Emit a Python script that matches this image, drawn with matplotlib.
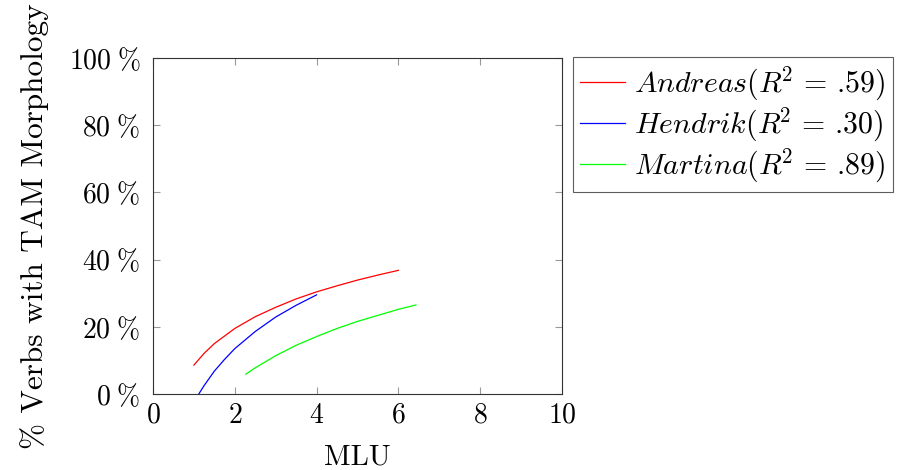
import matplotlib
matplotlib.use('Agg')
import matplotlib.pyplot as plt
from matplotlib.ticker import FuncFormatter

# values (MLU, % verbs with TAM morphology)
andreas_x = [1.0, 1.25, 1.5, 2.0, 2.5, 3.0, 3.5, 4.0, 4.5, 5.0, 5.5, 6.0]
andreas_y = [8.6, 12.1, 15.0, 19.5, 23.0, 25.8, 28.3, 30.4, 32.2, 33.9, 35.4, 36.8]

hendrik_x = [1.12, 1.25, 1.5, 1.75, 2.0, 2.5, 3.0, 3.5, 4.0]
hendrik_y = [0.0, 2.5, 6.8, 10.3, 13.5, 18.6, 22.9, 26.4, 29.5]

martina_x = [2.27, 2.5, 3.0, 3.5, 4.0, 4.5, 5.0, 5.5, 6.0, 6.43]
martina_y = [5.9, 7.8, 11.4, 14.5, 17.1, 19.5, 21.6, 23.4, 25.2, 26.5]

labels = [r'$Andreas(R^{\!2}\,=\,$.59)', r'$Hendrik(R^{\!2}\,=\,$.30)',
          r'$Martina(R^{\!2}\,=\,$.89)']
x_ticks = [0, 2, 4, 6, 8, 10]
y_ticks = [0, 20, 40, 60, 80, 100]

plt.rcParams['font.family'] = 'serif'
plt.rcParams['font.serif'] = ['cmr10']
plt.rcParams['mathtext.fontset'] = 'cm'
plt.rcParams['axes.formatter.use_mathtext'] = True

fig = plt.figure(figsize=(9.02, 4.7), dpi=100)
ax = fig.add_axes([0.1696, 0.1617, 0.4534, 0.7149])

ax.plot(andreas_x, andreas_y, color='#ff0000', linewidth=0.9, label=labels[0])
ax.plot(hendrik_x, hendrik_y, color='#0000ff', linewidth=0.9, label=labels[1])
ax.plot(martina_x, martina_y, color='#00ff00', linewidth=0.9, label=labels[2])

ax.set_xlim(0, 10)
ax.set_ylim(0, 100)
ax.set_xticks(x_ticks)
ax.set_yticks(y_ticks)
ax.yaxis.set_major_formatter(FuncFormatter(lambda v, p: r'$%d\;\%%$' % v))
ax.xaxis.set_major_formatter(FuncFormatter(lambda v, p: r'$%d$' % v))

ax.tick_params(direction='in', length=5, width=0.8, color='#999999',
               labelsize=20, top=True, right=True)
ax.tick_params(axis='y', pad=9)
ax.tick_params(axis='x', pad=6)
for s in ax.spines.values():
    s.set_linewidth(0.8)
    s.set_color('#333333')

ax.set_xlabel('MLU', fontsize=21, labelpad=11)
ax.set_ylabel('% Verbs with TAM Morphology', fontsize=22.5, labelpad=14)

leg = ax.legend(loc='upper left', bbox_to_anchor=(1.027, 1.003), fontsize=21.5,
                frameon=True, fancybox=False, edgecolor='#333333',
                handlelength=1.5, handletextpad=0.3, borderpad=0.25,
                labelspacing=0.1, borderaxespad=0)
leg.get_frame().set_linewidth(0.8)

fig.savefig('out.png', dpi=100)
